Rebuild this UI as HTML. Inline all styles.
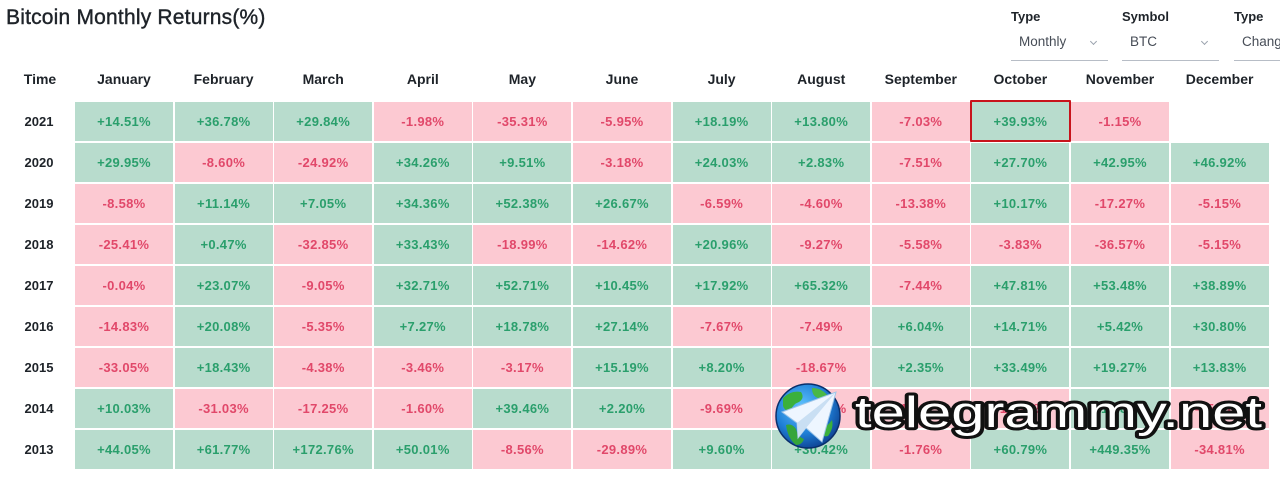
<!DOCTYPE html>
<html>
<head>
<meta charset="utf-8">
<style>
html,body{margin:0;padding:0;background:#fff;}
body{width:1280px;height:477px;position:relative;overflow:hidden;font-family:"Liberation Sans",Arial,sans-serif;}
.abs{position:absolute;white-space:nowrap;}
.title{left:6px;top:6px;line-height:24px;font-size:21px;color:#1e2329;letter-spacing:0.2px;-webkit-text-stroke:0.4px #1e2329;}
.lbl{font-size:13px;font-weight:bold;color:#1e2329;line-height:16px;}
.sel{font-size:13.5px;color:#474d57;line-height:16px;}
.uline{height:1px;background:#b7bdc6;top:60px;}
.chev{width:4px;height:4px;border-right:1.2px solid #9aa2ad;border-bottom:1.2px solid #9aa2ad;transform:rotate(45deg);top:39px;}
.hdr{top:69px;line-height:20px;font-size:14px;font-weight:bold;color:#1e2329;text-align:center;}
.yr{font-size:13px;font-weight:bold;color:#1e2329;width:40px;text-align:center;left:19px;line-height:39px;}
.c{position:absolute;width:98px;height:39px;line-height:39px;text-align:center;font-size:13px;font-weight:bold;letter-spacing:0.3px;}
.g{background:#b8dccd;color:#2a9f6c;}
.r{background:#fcc9d2;color:#e1486a;}
.box{position:absolute;left:970px;top:100px;width:101px;height:42px;border:2px solid #c8141c;box-sizing:border-box;border-radius:1px;}
</style>
</head>
<body>
<div class="abs title">Bitcoin Monthly Returns(%)</div>

<div class="abs lbl" style="left:1011px;top:9px;">Type</div>
<div class="abs sel" style="left:1019px;top:34px;">Monthly</div>
<div class="abs chev" style="left:1091px;"></div>
<div class="abs uline" style="left:1011px;width:97px;"></div>

<div class="abs lbl" style="left:1122px;top:9px;">Symbol</div>
<div class="abs sel" style="left:1130px;top:34px;">BTC</div>
<div class="abs chev" style="left:1202px;"></div>
<div class="abs uline" style="left:1122px;width:97px;"></div>

<div class="abs lbl" style="left:1234px;top:9px;">Type</div>
<div class="abs sel" style="left:1242px;top:34px;">Change</div>
<div class="abs uline" style="left:1234px;width:46px;"></div>

<div class="abs hdr" style="left:19px;width:42px;">Time</div>
<div id="grid"></div>

<div class="box"></div>

<svg class="abs" style="left:0;top:0;" width="1280" height="477" viewBox="0 0 1280 477">
  <defs>
    <radialGradient id="gl" cx="0.4" cy="0.35" r="0.7">
      <stop offset="0" stop-color="#5fc3ff"/>
      <stop offset="0.6" stop-color="#1f7fd6"/>
      <stop offset="1" stop-color="#0d3f8f"/>
    </radialGradient>
  </defs>
  <circle cx="808" cy="416" r="32" fill="url(#gl)" stroke="#0a2f6b" stroke-width="1.5"/>
  <path d="M783 398 q8 -8 18 -6 q4 6 -2 10 q-6 2 -8 8 q-6 2 -8 -4z" fill="#3bb03b"/>
  <path d="M812 388 q10 0 16 8 q-4 4 -10 2 q-6 -2 -6 -10z" fill="#49b847"/>
  <path d="M786 425 q6 -2 10 4 q2 8 8 10 q-2 6 -8 6 q-8 -6 -10 -20z" fill="#35a53a"/>
  <path d="M820 430 q8 -4 12 -10 q2 8 -4 16 q-6 2 -8 -6z" fill="#3bb03b"/>
  <polygon points="782,412 836,392 822,442 806,428 798,438 797,423" fill="#eef6ff" stroke="#9cc4e8" stroke-width="1"/>
  <polygon points="797,423 836,392 806,428 798,438" fill="#c9dff3"/>
  <text x="855" y="427" textLength="407" lengthAdjust="spacingAndGlyphs" font-family="Liberation Sans, Arial, sans-serif" font-size="44" font-weight="normal" fill="#ffffff" stroke="#111" stroke-width="6" stroke-linejoin="round" paint-order="stroke">telegrammy.net</text>
</svg>

<script>
var months=["January","February","March","April","May","June","July","August","September","October","November","December"];
var data=[
["2021",["+14.51","+36.78","+29.84","-1.98","-35.31","-5.95","+18.19","+13.80","-7.03","+39.93","-1.15",null]],
["2020",["+29.95","-8.60","-24.92","+34.26","+9.51","-3.18","+24.03","+2.83","-7.51","+27.70","+42.95","+46.92"]],
["2019",["-8.58","+11.14","+7.05","+34.36","+52.38","+26.67","-6.59","-4.60","-13.38","+10.17","-17.27","-5.15"]],
["2018",["-25.41","+0.47","-32.85","+33.43","-18.99","-14.62","+20.96","-9.27","-5.58","-3.83","-36.57","-5.15"]],
["2017",["-0.04","+23.07","-9.05","+32.71","+52.71","+10.45","+17.92","+65.32","-7.44","+47.81","+53.48","+38.89"]],
["2016",["-14.83","+20.08","-5.35","+7.27","+18.78","+27.14","-7.67","-7.49","+6.04","+14.71","+5.42","+30.80"]],
["2015",["-33.05","+18.43","-4.38","-3.46","-3.17","+15.19","+8.20","-18.67","+2.35","+33.49","+19.27","+13.83"]],
["2014",["+10.03","-31.03","-17.25","-1.60","+39.46","+2.20","-9.69","-17.55","-19.01","-12.95","+12.82","-15.11"]],
["2013",["+44.05","+61.77","+172.76","+50.01","-8.56","-29.89","+9.60","+30.42","-1.76","+60.79","+449.35","-34.81"]]
];
var h="";
for(var i=0;i<12;i++){
  var x=75+i*99.6;
  h+='<div class="abs hdr" style="left:'+x+'px;width:98px;">'+months[i]+'</div>';
}
for(var r=0;r<data.length;r++){
  var y=102+r*41;
  h+='<div class="abs yr" style="top:'+y+'px;">'+data[r][0]+'</div>';
  for(var i=0;i<12;i++){
    var v=data[r][1][i]; if(v===null) continue;
    var x=75+i*99.6;
    h+='<div class="c '+(v[0]=="+"?"g":"r")+'" style="left:'+x+'px;top:'+y+'px;">'+v+'%</div>';
  }
}
document.getElementById("grid").innerHTML=h;
</script>
</body>
</html>
